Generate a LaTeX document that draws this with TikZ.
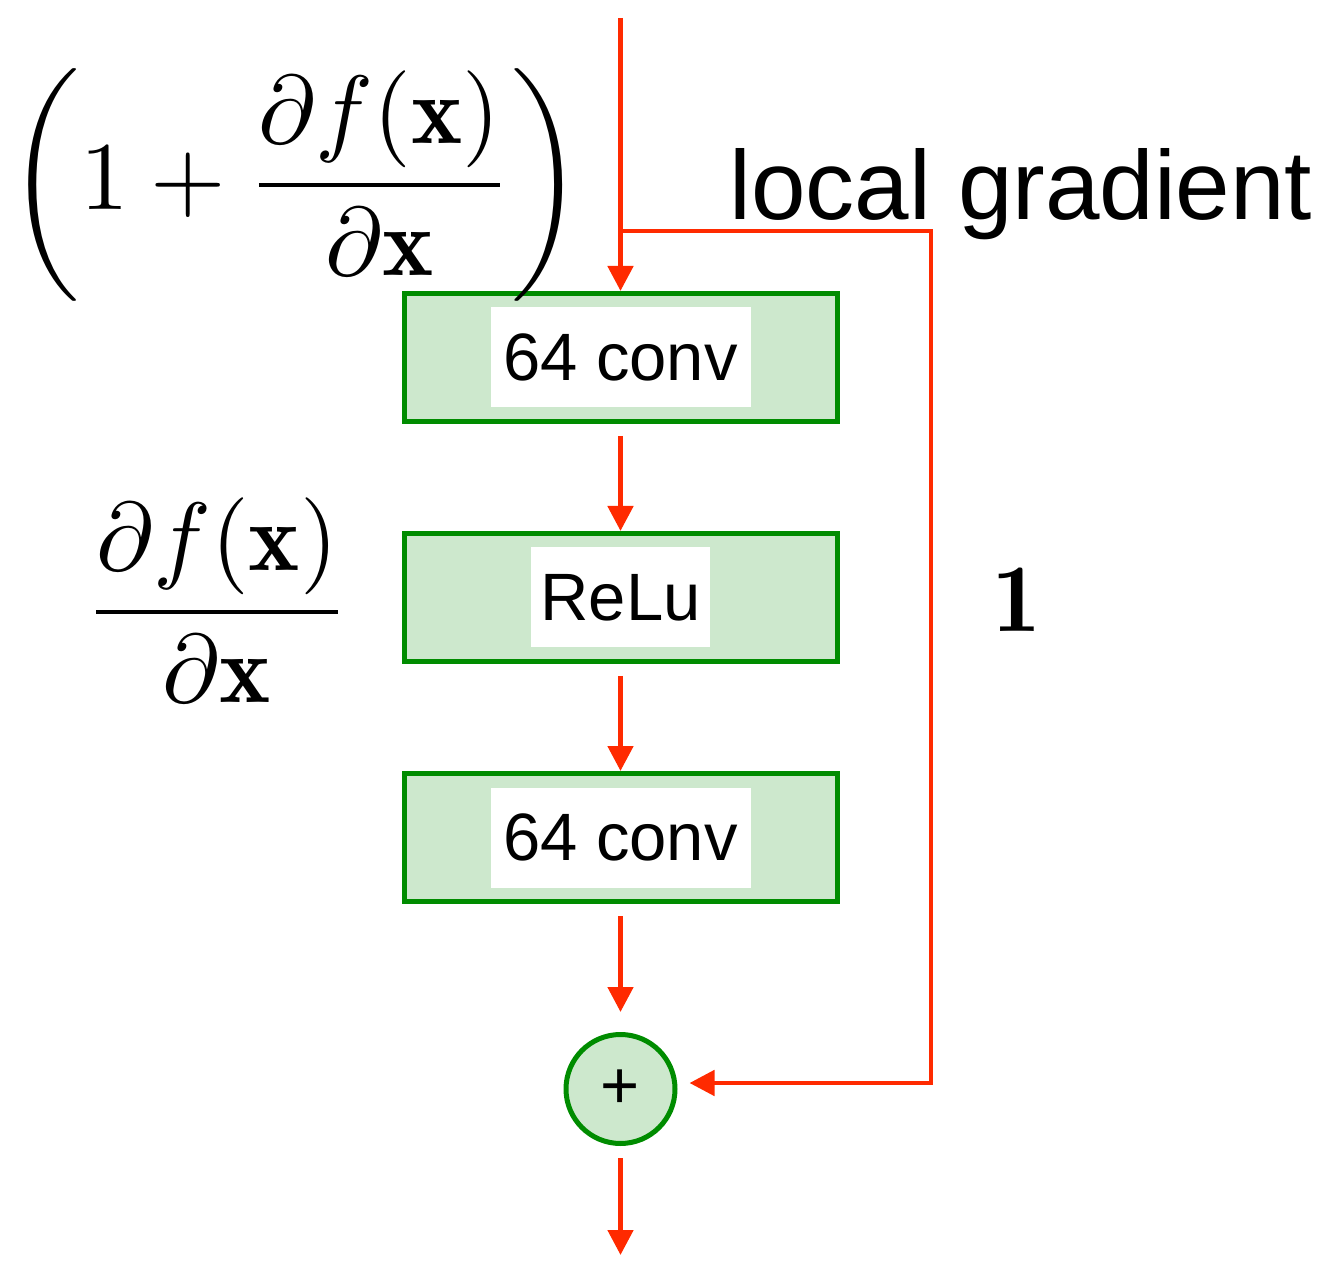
\documentclass[tikz,border=0pt]{standalone}
\usepackage{amsmath}
\usepackage{graphicx}
\usepackage{fontspec}
\newfontfamily\labelfont{Liberation Sans}
\usetikzlibrary{arrows.meta}
\definecolor{flowred}{RGB}{255,42,0}
\definecolor{blockgreen}{RGB}{0,140,0}
\definecolor{blockfill}{RGB}{205,232,205}
\newcommand{\bigmath}[1]{\scalebox{4.85}{$\displaystyle #1$}}
\tikzset{
  block/.style={draw=blockgreen, fill=blockfill, line width=2.5pt,
    minimum width=216.5pt, minimum height=64pt, inner sep=0pt},
  sumnode/.style={circle, draw=blockgreen, fill=blockfill, line width=2.5pt,
    minimum size=54.5pt, inner sep=0pt, font=\labelfont\fontsize{33.5}{40}\selectfont},
  tag/.style={fill=white, minimum height=50pt, inner sep=0pt,
    font=\labelfont\fontsize{33.5}{40}\selectfont},
  flow/.style={draw=flowred, line width=2.4pt,
    -{Triangle[length=12.5pt,width=12.5pt]}},
  mathlabel/.style={inner sep=0pt},
}
\begin{document}
\begin{tikzpicture}[x=0.5pt,y=-0.5pt]
\useasboundingbox (0,0) rectangle (1339,1261);

% residual block: conv -> ReLu -> conv
\node[block] (conv1) at (620.5,357.5) {};
\node[tag, minimum width=130pt] (conv1t) at (conv1) {64 conv};
\node[block] (relu) at (620.5,597.5) {};
\node[tag, minimum width=89.5pt] (relut) at (relu) {ReLu};
\node[block] (conv2) at (620.5,837.5) {};
\node[tag, minimum width=130pt] (conv2t) at (conv2) {64 conv};
\node[sumnode] (sum) at (620.5,1089) {+};

% free ends and corners of the gradient flow
\coordinate (top) at (620.5,18);
\coordinate (split) at (620.5,231);
\coordinate (cornerA) at (931,231);
\coordinate (cornerB) at (931,1083);
\coordinate (out) at (620.5,1255);

% main path
\draw[flow] (top) -- (conv1.north);
\draw[flow, shorten <=6pt] (conv1.south) -- (relu.north);
\draw[flow, shorten <=6pt] (relu.south) -- (conv2.north);
\draw[flow, shorten <=6pt, shorten >=10pt] (conv2.south) -- (sum.north);
\draw[flow, shorten <=6pt] (sum.south) -- (out);

% identity shortcut
\draw[flow, shorten >=6pt] (split) -- (cornerA) -- (cornerB) -- (sum.east |- cornerB);

% labels
\node[anchor=base west, inner sep=0pt,
  font=\labelfont\fontsize{49}{58}\selectfont] (lg) at (729,220) {local gradient};
\node[mathlabel] (one) at (1017,600) {\bigmath{\mathbf{1}}};
\node[mathlabel] (dfdx) at (217,600)
  {\bigmath{\frac{\partial f(\mathbf{x})}{\partial \mathbf{x}}}};
\node[mathlabel] (total) at (296,185)
  {\bigmath{\left(1+\frac{\partial f(\mathbf{x})}{\partial \mathbf{x}}\right)}};
\end{tikzpicture}
\end{document}
